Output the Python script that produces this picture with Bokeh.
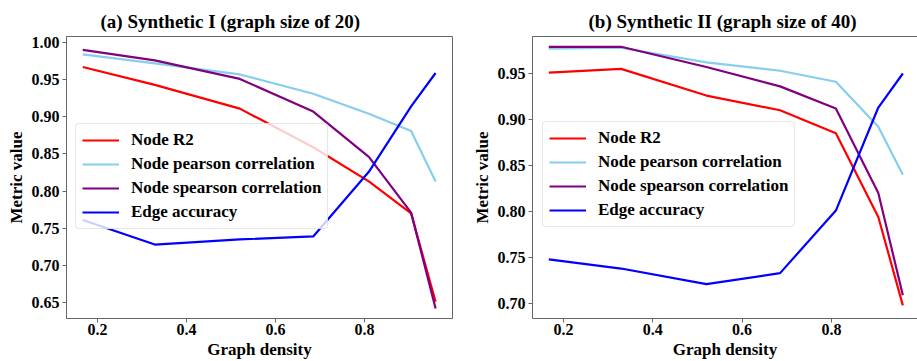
from bokeh.plotting import figure
from bokeh.layouts import row
from bokeh.models import Range1d, Legend, LegendItem, LinearAxis, FixedTicker, PrintfTickFormatter
from bokeh.embed import file_html
from bokeh.resources import INLINE

# ---------------- data ----------------
density = [0.167, 0.329, 0.52, 0.685, 0.81, 0.905, 0.96]

r2_a = [0.967, 0.943, 0.911, 0.859, 0.813, 0.770, 0.651]
pearson_a = [0.984, 0.972, 0.957, 0.931, 0.904, 0.881, 0.813]
spearman_a = [0.990, 0.976, 0.951, 0.907, 0.846, 0.771, 0.642]
edge_a = [0.761, 0.728, 0.735, 0.739, 0.826, 0.914, 0.959]

r2_b = [0.951, 0.955, 0.926, 0.910, 0.885, 0.794, 0.698]
pearson_b = [0.977, 0.978, 0.962, 0.953, 0.941, 0.892, 0.840]
spearman_b = [0.979, 0.979, 0.957, 0.936, 0.912, 0.820, 0.709]
edge_b = [0.748, 0.738, 0.721, 0.733, 0.801, 0.913, 0.950]

series_names = ["Node R2", "Node pearson correlation", "Node spearson correlation", "Edge accuracy"]
series_colors = ["#ff0000", "#87ceeb", "#800080", "#0000ff"]

x_ticks = [0.2, 0.4, 0.6, 0.8]
y_ticks_a = [0.65, 0.70, 0.75, 0.80, 0.85, 0.90, 0.95, 1.00]
y_ticks_b = [0.70, 0.75, 0.80, 0.85, 0.90, 0.95]

title_a = "(a) Synthetic I (graph size of 20)"
title_b = "(b) Synthetic II (graph size of 40)"

FONT = "Liberation Serif"
SPINE = "#666666"


def make_fig(width, height, xr, yr, borders, series, yticks, title, title_offset,
             legend_loc, full_outline):
    bl, br, bt, bb = borders
    p = figure(width=width, height=height, output_backend="svg", toolbar_location=None,
               x_range=Range1d(*xr), y_range=Range1d(*yr),
               min_border_left=bl, min_border_right=br, min_border_top=bt, min_border_bottom=bb)
    p.title.text = title
    p.title.text_font = FONT
    p.title.text_font_style = "bold"
    p.title.text_font_size = "19px"
    p.title.text_color = "black"
    p.title.align = "left"
    p.title.offset = title_offset
    p.title.standoff = 9
    p.xgrid.visible = False
    p.ygrid.visible = False
    p.background_fill_color = "white"
    p.border_fill_color = "white"
    xa = p.below[0]
    ya = p.left[0]
    if full_outline:
        p.outline_line_color = SPINE
        p.outline_line_width = 1
    else:
        p.outline_line_color = None
        top = LinearAxis(major_tick_line_color=None, minor_tick_line_color=None,
                         major_label_text_font_size="0px", axis_line_color=SPINE,
                         major_tick_out=0, major_label_standoff=0, axis_label_standoff=0,
                         ticker=FixedTicker(ticks=[]))
        p.add_layout(top, "above")

    for ax in (xa, ya):
        ax.axis_line_color = SPINE
        ax.major_tick_line_color = SPINE
        ax.minor_tick_line_color = None
        ax.major_tick_out = 4
        ax.major_tick_in = 0
        ax.major_label_text_font = FONT
        ax.major_label_text_font_style = "bold"
        ax.major_label_text_font_size = "16px"
        ax.major_label_text_color = "black"
        ax.axis_label_text_font = FONT
        ax.axis_label_text_font_style = "bold"
        ax.axis_label_text_font_size = "17px"
        ax.axis_label_text_color = "black"
    xa.major_label_standoff = 1
    xa.axis_label_standoff = 2
    ya.major_label_standoff = 3
    ya.axis_label_standoff = 3
    xa.ticker = FixedTicker(ticks=x_ticks)
    xa.formatter = PrintfTickFormatter(format="%.1f")
    ya.ticker = FixedTicker(ticks=yticks)
    ya.formatter = PrintfTickFormatter(format="%.2f")
    xa.axis_label = "Graph density"
    ya.axis_label = "Metric value"

    items = []
    for name, color, ys in zip(series_names, series_colors, series):
        r = p.line(density, ys, line_color=color, line_width=2.2)
        items.append(LegendItem(label=name, renderers=[r]))
    leg = Legend(items=items, location=legend_loc, margin=0, padding=6, spacing=4,
                 glyph_width=37, glyph_height=20, label_height=20, label_standoff=12,
                 label_text_font=FONT, label_text_font_style="bold", label_text_font_size="17px",
                 label_text_color="black",
                 border_line_color="#d0d0d0", border_line_width=1,
                 background_fill_color="white", background_fill_alpha=0.8)
    if "border_radius" in Legend.properties():
        leg.border_radius = 4
    p.add_layout(leg)
    return p


p1 = make_fig(460, 361, (0.1305, 0.998), (0.6285, 1.0081), (66, 8, 36, 43),
              [r2_a, pearson_a, spearman_a, edge_a], y_ticks_a,
              title_a, 34, (9, 89), True)
p2 = make_fig(457, 361, (0.1305, 0.9928), (0.6837, 0.9902), (72, 0, 36, 43),
              [r2_b, pearson_b, spearman_b, edge_b], y_ticks_b,
              title_b, 56, (10, 91), False)

layout = row(p1, p2)
open("out.html", "w").write(file_html(layout, INLINE))
